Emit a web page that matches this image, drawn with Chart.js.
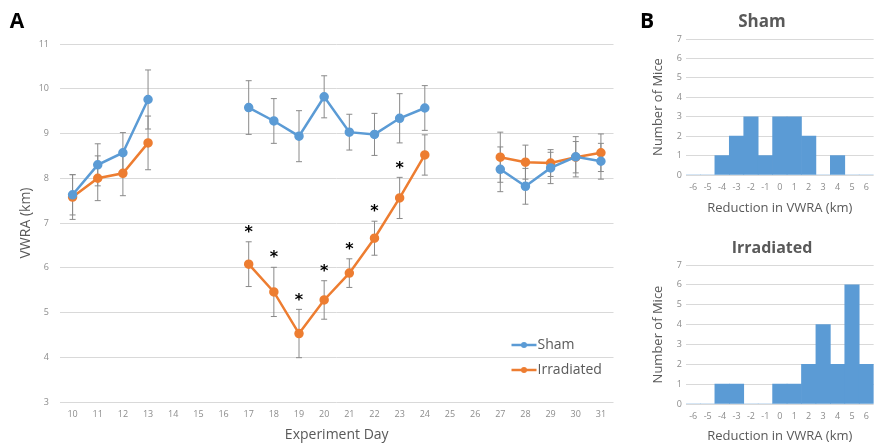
<!DOCTYPE html>
<html>
<head>
<meta charset="utf-8">
<script src="https://cdn.jsdelivr.net/npm/chart.js@4.4.1/dist/chart.umd.min.js"></script>
<style>
html, body { margin:0; padding:0; background:#fff; }
#page { position:relative; width:876px; height:444px; overflow:hidden; }
.box { position:absolute; }
</style>
</head>
<body>
<div id="page">
  <div class="box" style="left:0;top:0;width:620px;height:444px"><canvas id="lineCanvas"></canvas></div>
  <div class="box" style="left:600px;top:0;width:276px;height:220px"><canvas id="shamCanvas"></canvas></div>
  <div class="box" style="left:600px;top:220px;width:276px;height:224px"><canvas id="irrCanvas"></canvas></div>
</div>
<script>
//Panel A data
const experimentDays = ['10','11','12','13','14','15','16','17','18','19','20','21','22','23','24','25','26','27','28','29','30','31']

const shamMeans = [7.63, 8.30, 8.57, 9.76, null, null, null, 9.58, 9.28, 8.94, 9.82, 9.03, 8.98, 9.34, 9.57, null, null, 8.20, 7.82, 8.23, 8.48, 8.38]
const shamErrors = [0.45, 0.47, 0.45, 0.66, null, null, null, 0.60, 0.50, 0.57, 0.47, 0.40, 0.47, 0.55, 0.50, null, null, 0.50, 0.40, 0.35, 0.45, 0.40]

const irradiatedMeans = [7.58, 8.00, 8.11, 8.79, null, null, null, 6.08, 5.46, 4.53, 5.28, 5.88, 6.66, 7.56, 8.52, null, null, 8.47, 8.36, 8.34, 8.47, 8.57]
const irradiatedErrors = [0.50, 0.50, 0.50, 0.60, null, null, null, 0.50, 0.55, 0.54, 0.43, 0.32, 0.38, 0.46, 0.45, null, null, 0.56, 0.38, 0.30, 0.35, 0.42]

const significantDays = ['17','18','19','20','21','22','23']

//Panel B data
const reductionBins = ['-6','-5','-4','-3','-2','-1','0','1','2','3','4','5','6']
const shamCounts = [0, 0, 1, 2, 3, 1, 3, 3, 2, 0, 1, 0, 0]
const irradiatedCounts = [0, 0, 1, 1, 0, 0, 1, 1, 2, 4, 2, 6, 2]

const blue = '#5b9bd5'
const orange = '#ed7d31'
const gridColor = '#d9d9d9'
const tickColor = '#8c8c8c'
const titleColor = '#595959'

Chart.defaults.font.family = "'Open Sans', sans-serif";
Chart.defaults.animation = false;

//Error bars drawn from each dataset's errors list
const errorBarPlugin = {
    id: 'errorBars',
    beforeDatasetsDraw(chart) {
        const ctx = chart.ctx
        const yScale = chart.scales.y
        ctx.save()
        ctx.strokeStyle = '#8a8a8a'
        ctx.lineWidth = 1
        chart.data.datasets.forEach((ds, i) => {
            const meta = chart.getDatasetMeta(i)
            meta.data.forEach((pt, j) => {
                const v = ds.data[j], e = ds.errors[j]
                if (v == null || e == null) return
                const top = yScale.getPixelForValue(v + e)
                const bottom = yScale.getPixelForValue(v - e)
                ctx.beginPath()
                ctx.moveTo(pt.x, top); ctx.lineTo(pt.x, bottom)
                ctx.moveTo(pt.x - 3, top); ctx.lineTo(pt.x + 3, top)
                ctx.moveTo(pt.x - 3, bottom); ctx.lineTo(pt.x + 3, bottom)
                ctx.stroke()
            })
        })
        ctx.restore()
    },
    afterDatasetsDraw(chart) {
        //asterisks over the significant irradiated days
        const ctx = chart.ctx
        const yScale = chart.scales.y
        const ds = chart.data.datasets[1]
        const meta = chart.getDatasetMeta(1)
        ctx.save()
        ctx.fillStyle = '#000'
        ctx.font = "bold 16px 'DejaVu Sans'"
        ctx.textAlign = 'center'
        ctx.textBaseline = 'middle'
        significantDays.forEach(day => {
            const j = experimentDays.indexOf(day)
            const top = yScale.getPixelForValue(ds.data[j] + ds.errors[j])
            ctx.fillText('*', meta.data[j].x, top - 9)
        })
        ctx.restore()
    },
    afterDraw(chart) {
        const ctx = chart.ctx
        const area = chart.chartArea
        ctx.save()
        //legend inside the plot
        chart.data.datasets.forEach((ds, i) => {
            const y = area.bottom - 57 + i * 25
            const x = area.right - 102
            ctx.strokeStyle = ds.borderColor
            ctx.fillStyle = ds.borderColor
            ctx.lineWidth = 2.5
            ctx.beginPath(); ctx.moveTo(x, y); ctx.lineTo(x + 25, y); ctx.stroke()
            ctx.beginPath(); ctx.arc(x + 12.5, y, 3, 0, Math.PI * 2); ctx.fill()
            ctx.fillStyle = titleColor
            ctx.font = "14px 'Open Sans'"
            ctx.textAlign = 'left'
            ctx.textBaseline = 'middle'
            ctx.fillText(ds.label, x + 26, y)
        })
        //panel letter
        ctx.fillStyle = '#000'
        ctx.font = "bold 21px 'Open Sans'"
        ctx.textAlign = 'center'
        ctx.textBaseline = 'middle'
        ctx.fillText('A', 17, 22)
        ctx.restore()
    }
}

const lineChart = new Chart(document.getElementById('lineCanvas'), {
    type: 'line',
    data: {
        labels: experimentDays,
        datasets: [
            {
                label: 'Sham',
                data: shamMeans,
                errors: shamErrors,
                borderColor: blue,
                backgroundColor: blue,
                borderWidth: 2.5,
                pointRadius: 3.5,
                pointBackgroundColor: blue,
                spanGaps: false
            },
            {
                label: 'Irradiated',
                data: irradiatedMeans,
                errors: irradiatedErrors,
                borderColor: orange,
                backgroundColor: orange,
                borderWidth: 2.5,
                pointRadius: 3.5,
                pointBackgroundColor: orange,
                spanGaps: false
            }
        ]
    },
    options: {
        responsive: true,
        maintainAspectRatio: false,
        layout: { padding: { top: 44, right: 4, left: 0, bottom: 0 } },
        plugins: { legend: { display: false }, tooltip: { enabled: false } },
        scales: {
            x: {
                offset: true,
                grid: { display: false, drawTicks: false },
                border: { display: false },
                ticks: { color: tickColor, font: { size: 9 }, padding: 7, maxRotation: 0, autoSkip: false },
                title: { display: true, text: 'Experiment Day', color: titleColor, font: { size: 14 }, padding: { top: 0, bottom: 1 } },
                afterFit: scale => { scale.height = 42 }
            },
            y: {
                min: 3,
                max: 11,
                ticks: { stepSize: 1, color: tickColor, font: { size: 9 }, padding: 11 },
                grid: { color: gridColor, drawTicks: false },
                border: { display: false },
                title: { display: true, text: 'VWRA (km)', color: titleColor, font: { size: 14 }, padding: { top: 18, bottom: 0 } },
                afterFit: scale => { scale.width = 60 }
            }
        }
    },
    plugins: [errorBarPlugin]
});

//Histogram panels
const panelTextPlugin = {
    id: 'panelText',
    afterDraw(chart, args, opts) {
        const ctx = chart.ctx
        ctx.save()
        ctx.textAlign = 'center'
        ctx.textBaseline = 'middle'
        opts.items.forEach(item => {
            ctx.fillStyle = item.color
            ctx.font = item.font
            ctx.fillText(item.text, item.x, item.y)
        })
        ctx.restore()
    }
}

function histogram(canvasId, counts, topPad, axisHeight, titlePad, textItems) {
    return new Chart(document.getElementById(canvasId), {
        type: 'bar',
        data: {
            labels: reductionBins,
            datasets: [{ data: counts, backgroundColor: blue, borderWidth: 0, categoryPercentage: 1, barPercentage: 1 }]
        },
        options: {
            responsive: true,
            maintainAspectRatio: false,
            layout: { padding: { top: topPad, right: 0, left: 0, bottom: 0 } },
            plugins: {
                legend: { display: false },
                tooltip: { enabled: false },
                panelText: { items: textItems }
            },
            scales: {
                x: {
                    grid: { display: false, drawTicks: false },
                    border: { display: false },
                    ticks: { color: tickColor, font: { size: 9 }, padding: 7, maxRotation: 0, autoSkip: false },
                    title: { display: true, text: 'Reduction in VWRA (km)', color: titleColor, font: { size: 13 }, padding: { top: 0, bottom: titlePad } },
                    afterFit: scale => { scale.height = axisHeight }
                },
                y: {
                    min: 0,
                    max: 7,
                    ticks: { stepSize: 1, color: tickColor, font: { size: 9 }, padding: 4 },
                    grid: { color: gridColor, drawTicks: false },
                    border: { display: false },
                    title: { display: true, text: 'Number of Mice', color: titleColor, font: { size: 13 }, padding: { top: 50, bottom: 0 } },
                    afterFit: scale => { scale.width = 86 }
                }
            }
        },
        plugins: [panelTextPlugin]
    })
}

const shamChart = histogram('shamCanvas', shamCounts, 39, 45, 4, [
    { text: 'B', x: 47, y: 22, font: "bold 21px 'Open Sans'", color: '#000' },
    { text: 'Sham', x: 162, y: 22, font: "bold 17px 'Open Sans'", color: titleColor }
])

const irradiatedChart = histogram('irrCanvas', irradiatedCounts, 45, 40, 0, [
    { text: 'Irradiated', x: 172, y: 28, font: "bold 16px 'Open Sans'", color: titleColor }
])
</script>
</body>
</html>
